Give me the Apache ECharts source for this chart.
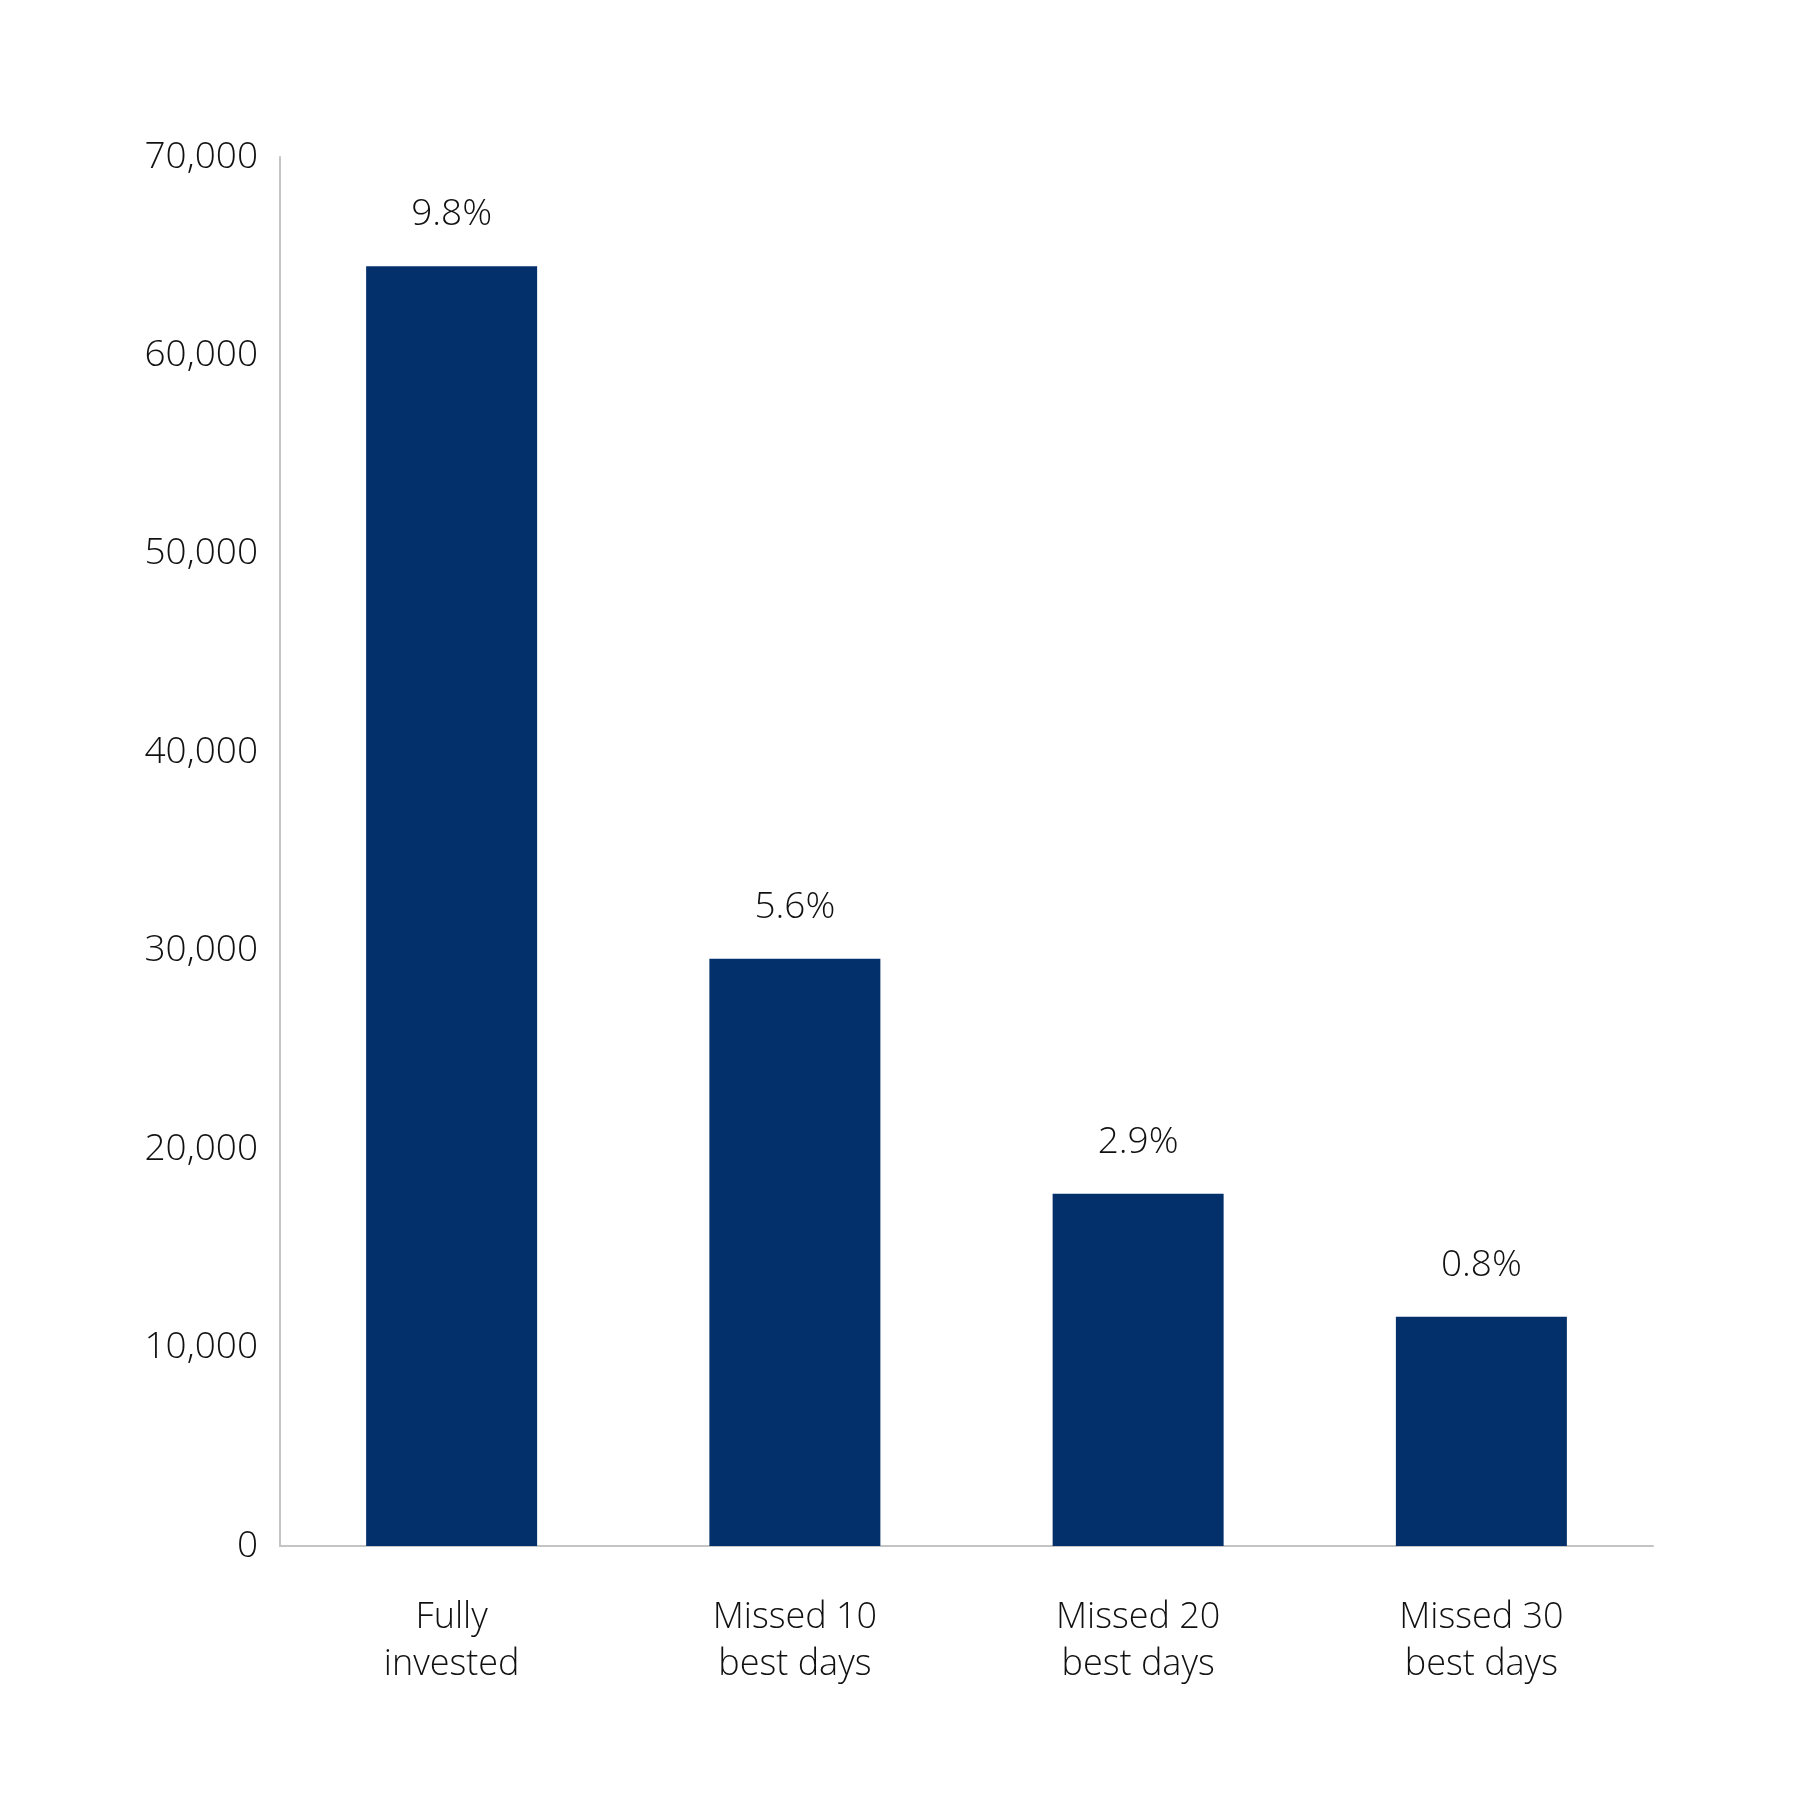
<!DOCTYPE html>
<html>
<head>
<meta charset="utf-8">
<script src="https://cdn.jsdelivr.net/npm/echarts@6/dist/echarts.min.js"></script>
<style>
html,body{margin:0;padding:0;background:#fff;}
#chart{width:1800px;height:1800px;}
</style>
</head>
<body>
<div id="chart"></div>
<script>
const categories = ['Fully\ninvested', 'Missed 10\nbest days', 'Missed 20\nbest days', 'Missed 30\nbest days'];
const values = [64500, 29600, 17750, 11550];
const returnLabels = ['9.8%', '5.6%', '2.9%', '0.8%'];
const yTicks = [0, 10000, 20000, 30000, 40000, 50000, 60000, 70000];

const FONT = "'Open Sans', 'Noto Sans', sans-serif";
const chart = echarts.init(document.getElementById('chart'));
chart.setOption({
  backgroundColor: '#ffffff',
  animation: false,
  grid: { left: 280, right: 147, top: 157, bottom: 254 },
  xAxis: {
    type: 'category',
    data: categories,
    axisLine: { show: true, lineStyle: { color: '#c4c4c4', width: 2 } },
    axisTick: { show: false },
    axisLabel: {
      color: '#111111', fontFamily: FONT, fontWeight: 300, fontSize: 36,
      lineHeight: 47, margin: 48, interval: 0
    }
  },
  yAxis: {
    type: 'value',
    min: 0, max: 70000, interval: 10000,
    axisLine: { show: true, lineStyle: { color: '#c4c4c4', width: 2 } },
    axisTick: { show: false },
    splitLine: { show: false },
    axisLabel: {
      color: '#111111', fontFamily: FONT, fontWeight: 300, fontSize: 37, margin: 22,
      padding: [6, 0, 0, 0],
      formatter: v => yTicks.includes(v) ? v.toLocaleString('en-US') : ''
    }
  },
  series: [{
    type: 'bar',
    data: values,
    barWidth: 171,
    itemStyle: { color: '#03306b' },
    label: {
      show: true, position: 'top', distance: 33,
      color: '#111111', fontFamily: FONT, fontWeight: 300, fontSize: 37,
      formatter: p => returnLabels[p.dataIndex]
    }
  }]
});
</script>
</body>
</html>
